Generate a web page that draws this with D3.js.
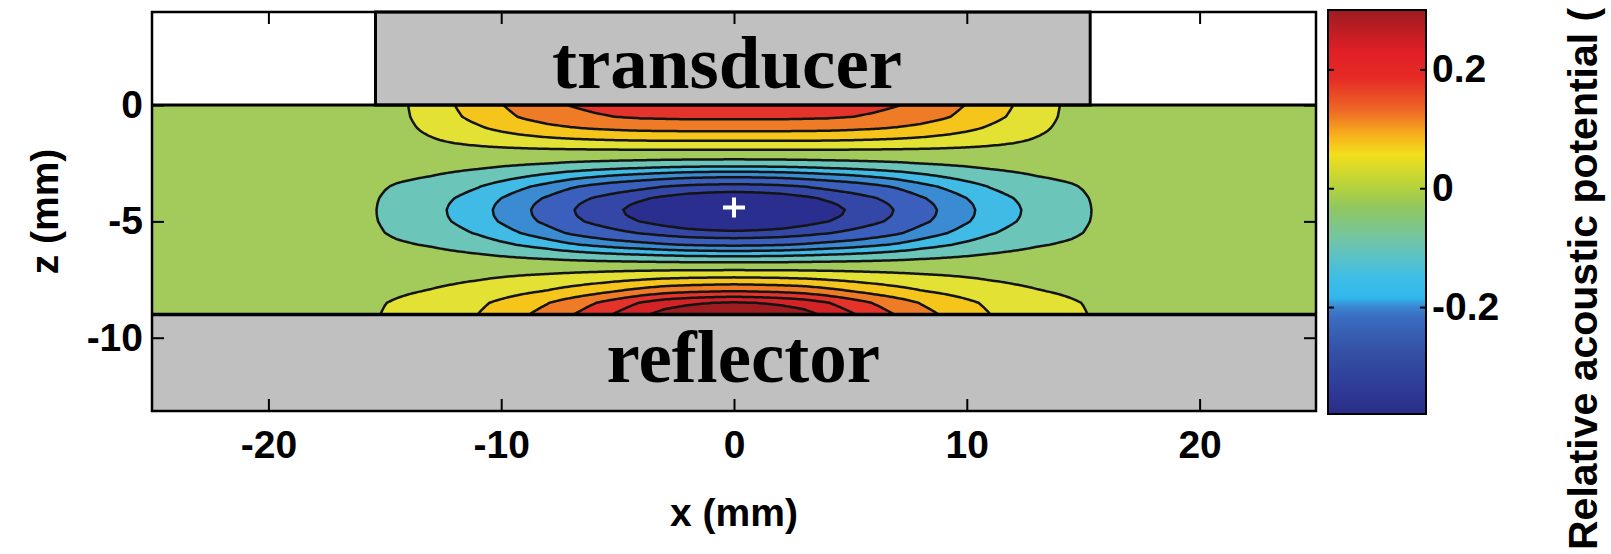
<!DOCTYPE html>
<html>
<head>
<meta charset="utf-8">
<script src="https://cdn.jsdelivr.net/npm/d3@7"></script>
<style>
  html, body { margin: 0; padding: 0; background: #fff; }
  svg { display: block; }
  .lbl { font-family: "Liberation Sans", Arial, sans-serif; font-weight: bold; font-size: 39px; fill: #000; }
  .tick text { font-family: "Liberation Sans", Arial, sans-serif; font-weight: bold; font-size: 39px; fill: #000; }
  .tick line { stroke: #000; stroke-width: 2; }
  .part { font-family: "Liberation Serif", "Times New Roman", serif; font-weight: bold; font-size: 75px; fill: #000; }
</style>
</head>
<body>
<svg id="chart" width="1611" height="554"></svg>
<script>
'use strict';

// on-axis (x = 0) potential between transducer (z = 0) and reflector (z = -9)
var zSamples    = [0, -0.5, -1, -1.5, -2, -2.5, -3, -3.5, -4, -4.25, -4.5, -4.75, -5, -5.5, -6, -6.5, -7, -7.5, -8, -8.5, -9];
var axialValues = [0.20, 0.18, 0.135, 0.075, 0.01, -0.08, -0.19, -0.29, -0.355, -0.372, -0.38, -0.377, -0.365, -0.31, -0.22, -0.11, 0.005, 0.085, 0.17, 0.275, 0.32];

// lateral fall-off (|x| in mm) as a fraction of the on-axis value, one per lobe
var xSamples      = [0, 1, 2, 3, 4, 5, 6, 7, 8, 9, 10, 11, 12, 13, 14, 14.5, 15, 15.5, 16, 16.5, 17, 25];
var lateralTop    = [1, 1, 1, 0.99, 0.98, 0.95, 0.91, 0.86, 0.79, 0.70, 0.59, 0.47, 0.35, 0.22, 0.10, 0.06, 0.03, 0.01, 0, 0, 0, 0];
var lateralWell   = [1, 0.99, 0.97, 0.93, 0.88, 0.83, 0.77, 0.70, 0.61, 0.53, 0.45, 0.37, 0.31, 0.25, 0.21, 0.19, 0.16, 0.12, 0.05, 0.01, 0, 0];
var lateralBottom = [1, 0.98, 0.95, 0.90, 0.81, 0.71, 0.61, 0.52, 0.43, 0.36, 0.29, 0.22, 0.17, 0.13, 0.10, 0.085, 0.07, 0.05, 0.02, 0, 0, 0];

// contour levels and the fill of each band (lowest band first)
var levels = [-0.32, -0.27, -0.21, -0.16, -0.11, -0.05, 0.02, 0.07, 0.12, 0.17, 0.22, 0.27];
var bandColors = ["#2a2e8e", "#3447a6", "#3b5fbc", "#3b8bd3", "#3fbbe6", "#6bc6b9", "#a2cb5c",
                  "#e3e134", "#f6c51c", "#ef7b27", "#e4332a", "#d42327", "#9f1c20"];

// colour bar
var cbValues = [0.30, 0.23, 0.186, 0.13, 0.09, 0.057, 0.006, -0.033, -0.095, -0.15, -0.184, -0.2, -0.218, -0.274, -0.341, -0.38];
var cbColors = ["#9c1c20", "#e01f26", "#e62a26", "#ee6a25", "#f7b01c", "#f2df1c", "#b9d33a", "#90c760",
                "#6cc4b0", "#3ebee6", "#33b8ec", "#3a86d0", "#3a6cc0", "#3451a6", "#2e3a96", "#2a2d86"];
var cbTicks = [0.2, 0, -0.2];

var xTicks = [-20, -10, 0, 10, 20];
var zTicks = [0, -5, -10];
var transducerX = [-15.4, 15.3];
var reflectorZ = -9;
var focus = [0, -4.4];

var svg = d3.select("#chart");
var W = 1611, H = 554;

var x = d3.scaleLinear().domain([-25, 25]).range([152, 1316]);
var z = d3.scaleLinear().domain([-13.15, 4]).range([411, 12]);
var cb = d3.scaleLinear().domain([-0.38, 0.30]).range([414, 10]);
var cbLeft = 1328, cbRight = 1426;

// ---- field grid ----
var step = 0.1;
var nx = Math.round(50 / step) + 1, nz = Math.round(9 / step) + 1;
var axial = d3.scaleLinear().domain(zSamples).range(axialValues).clamp(true);
var gTop = d3.scaleLinear().domain(xSamples).range(lateralTop).clamp(true);
var gWell = d3.scaleLinear().domain(xSamples).range(lateralWell).clamp(true);
var gBot = d3.scaleLinear().domain(xSamples).range(lateralBottom).clamp(true);

var grid = new Array(nx * nz);
for (var j = 0; j < nz; j++) {
    var zz = -j * step;
    var f = axial(zz);
    var prof = f < 0 ? gWell : (zz > -4.5 ? gTop : gBot);
    for (var i = 0; i < nx; i++) {
        var xx = -25 + i * step;
        grid[j * nx + i] = f * prof(Math.abs(xx));
    }
}

var contours = d3.contours().size([nx, nz]).thresholds(levels)(grid);

var gx = d3.scaleLinear().domain([0.5, nx - 0.5]).range([x(-25), x(25)]);
var gz = d3.scaleLinear().domain([0.5, nz - 0.5]).range([z(0), z(reflectorZ)]);
var path = d3.geoPath(d3.geoTransform({
    point: function(px, py) { this.stream.point(gx(px), gz(py)); }
}));

svg.append("rect").attr("width", W).attr("height", H).attr("fill", "#fff");

svg.append("clipPath").attr("id", "fieldClip")
  .append("rect")
    .attr("x", x(-25)).attr("y", z(0))
    .attr("width", x(25) - x(-25)).attr("height", z(reflectorZ) - z(0));

var field = svg.append("g").attr("clip-path", "url(#fieldClip)");
field.append("rect")
    .attr("x", x(-25)).attr("y", z(0))
    .attr("width", x(25) - x(-25)).attr("height", z(reflectorZ) - z(0))
    .attr("fill", bandColors[0]);

field.selectAll("path.band")
    .data(contours)
    .enter().append("path")
    .attr("class", "band")
    .attr("d", path)
    .attr("fill", function(d, k) { return bandColors[k + 1]; })
    .attr("stroke", "#141414")
    .attr("stroke-width", 2.5)
    .attr("stroke-linejoin", "round");

// transducer and reflector blocks
svg.append("rect")
    .attr("x", x(transducerX[0])).attr("y", z(4))
    .attr("width", x(transducerX[1]) - x(transducerX[0])).attr("height", z(0) - z(4))
    .attr("fill", "#c0c0c0").attr("stroke", "#000").attr("stroke-width", 3);

svg.append("rect")
    .attr("x", x(-25)).attr("y", z(reflectorZ))
    .attr("width", x(25) - x(-25)).attr("height", z(-13.15) - z(reflectorZ))
    .attr("fill", "#c0c0c0");

svg.append("line")
    .attr("x1", x(-25)).attr("x2", x(25))
    .attr("y1", z(0)).attr("y2", z(0))
    .attr("stroke", "#000").attr("stroke-width", 3);
svg.append("line")
    .attr("x1", x(-25)).attr("x2", x(25))
    .attr("y1", z(reflectorZ)).attr("y2", z(reflectorZ))
    .attr("stroke", "#000").attr("stroke-width", 3.5);

// focal point marker
svg.append("path")
    .attr("transform", "translate(" + x(focus[0]) + "," + z(focus[1]) + ")")
    .attr("d", "M-11,0H11M0,-10V10")
    .attr("stroke", "#fff").attr("stroke-width", 4);

svg.append("text").attr("class", "part")
    .attr("x", x(-0.3)).attr("y", 88)
    .attr("text-anchor", "middle").text("transducer");
svg.append("text").attr("class", "part")
    .attr("x", x(0.4)).attr("y", 382)
    .attr("text-anchor", "middle").text("reflector");

// ---- axes ----
var fmt = function(d) { return String(d); };
svg.append("g").attr("transform", "translate(0," + z(-13.15) + ")")
    .call(d3.axisBottom(x).tickValues(xTicks).tickSizeInner(-12).tickSizeOuter(0).tickPadding(19).tickFormat(fmt))
    .call(function(s) { s.select(".domain").remove(); });
svg.append("g").attr("transform", "translate(0," + z(4) + ")")
    .call(d3.axisTop(x).tickValues(xTicks).tickSizeInner(-12).tickSizeOuter(0).tickFormat(""))
    .call(function(s) { s.select(".domain").remove(); });
svg.append("g").attr("transform", "translate(" + x(-25) + ",0)")
    .call(d3.axisLeft(z).tickValues(zTicks).tickSizeInner(-12).tickSizeOuter(0).tickPadding(9).tickFormat(fmt))
    .call(function(s) { s.select(".domain").remove(); });
svg.append("g").attr("transform", "translate(" + x(25) + ",0)")
    .call(d3.axisRight(z).tickValues(zTicks).tickSizeInner(-12).tickSizeOuter(0).tickFormat(""))
    .call(function(s) { s.select(".domain").remove(); });

svg.append("rect")
    .attr("x", x(-25)).attr("y", z(4))
    .attr("width", x(25) - x(-25)).attr("height", z(-13.15) - z(4))
    .attr("fill", "none").attr("stroke", "#000").attr("stroke-width", 2.5);

svg.append("text").attr("class", "lbl")
    .attr("x", x(0)).attr("y", 512).attr("dy", "0.35em")
    .attr("text-anchor", "middle").text("x (mm)");
svg.append("text").attr("class", "lbl")
    .attr("transform", "translate(44," + ((z(4) + z(-13.15)) / 2) + ") rotate(-90)")
    .attr("dy", "0.35em").attr("text-anchor", "middle").text("z (mm)");

// ---- colour bar ----
var grad = svg.append("defs").append("linearGradient")
    .attr("id", "cbGrad").attr("gradientUnits", "userSpaceOnUse")
    .attr("x1", 0).attr("x2", 0).attr("y1", cb(0.30)).attr("y2", cb(-0.38));
grad.selectAll("stop")
    .data(cbValues)
    .enter().append("stop")
    .attr("offset", function(v) { return (cb(v) - cb(0.30)) / (cb(-0.38) - cb(0.30)); })
    .attr("stop-color", function(v, k) { return cbColors[k]; });

svg.append("rect")
    .attr("x", cbLeft).attr("y", cb(0.30))
    .attr("width", cbRight - cbLeft).attr("height", cb(-0.38) - cb(0.30))
    .attr("fill", "url(#cbGrad)").attr("stroke", "#000").attr("stroke-width", 2);

svg.append("g").attr("transform", "translate(" + cbRight + ",0)")
    .call(d3.axisRight(cb).tickValues(cbTicks).tickSizeInner(-6).tickSizeOuter(0).tickPadding(6).tickFormat(fmt))
    .call(function(s) { s.select(".domain").remove(); });
svg.append("g").attr("transform", "translate(" + cbLeft + ",0)")
    .call(d3.axisLeft(cb).tickValues(cbTicks).tickSizeInner(-6).tickSizeOuter(0).tickFormat(""))
    .call(function(s) { s.select(".domain").remove(); });

svg.append("text").attr("class", "lbl")
    .attr("transform", "translate(1583,550) rotate(-90)")
    .attr("dy", "0.35em").style("font-size", "41px")
    .text("Relative acoustic potential (");
</script>
</body>
</html>
